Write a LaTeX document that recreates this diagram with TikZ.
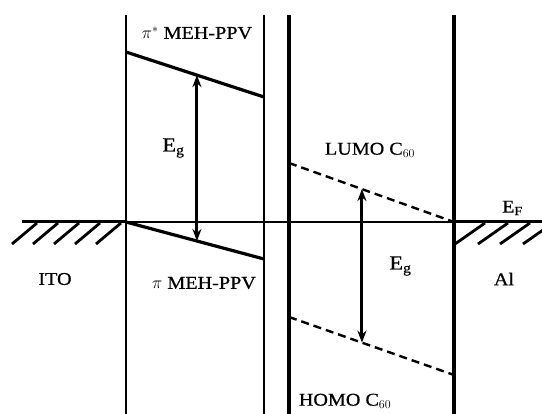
\documentclass[tikz,border=0pt]{standalone}
\usepackage{fontspec}
\setmainfont{Liberation Serif}[FakeStretch=1.12,FakeBold=0.6]
\usetikzlibrary{arrows.meta,calc}
\tikzset{
  wall/.style={line width=3.4pt},
  thinwall/.style={line width=2.6pt},
  band/.style={line width=3.2pt},
  cband/.style={line width=2.4pt, dash pattern=on 8pt off 5pt},
  level/.style={line width=3pt},
  midlevel/.style={line width=1.3pt},
  hatch/.style={line width=2.8pt},
  gap/.style={line width=3pt, {Stealth[length=12pt,width=9pt]}-{Stealth[length=12pt,width=9pt]}},
  lbl/.style={inner sep=0pt, font=\fontsize{18}{20}\selectfont},
  eglbl/.style={inner sep=0pt, font=\fontsize{20}{22}\selectfont}
}
\begin{document}
\begin{tikzpicture}[x=1pt,y=-1pt]
\useasboundingbox (0,0) rectangle (542,414);
% vertical boundaries
\coordinate (v1t) at (126,15); \coordinate (v1b) at (126,414);
\coordinate (v2t) at (264,15); \coordinate (v2b) at (264,414);
\coordinate (v3t) at (289,15); \coordinate (v3b) at (289,414);
\coordinate (v4t) at (454,15); \coordinate (v4b) at (454,414);
\draw[thinwall] (v1t) -- (v1b);
\draw[thinwall] (v2t) -- (v2b);
\draw[wall] (v3t) -- (v3b);
\draw[wall] (v4t) -- (v4b);
% Fermi level
\coordinate (efl) at (22,222);
\coordinate (ef1) at (126,222);
\coordinate (ef2) at (454,222);
\coordinate (efr) at (542,222);
\draw[level] (efl) -- (ef1);
\draw[midlevel] (ef1) -- (ef2);
\draw[level] (ef2) -- (efr);
% hatching ITO
\foreach \t in {37,58,79,100,121}{
  \draw[hatch] (\t,223) -- (\t-25,244);
}
% hatching Al
\begin{scope}
\clip (454,222) rectangle (542,260);
\foreach \t in {485,508,530,553}{
  \draw[hatch] (\t,223) -- (\t-30,244);
}
\end{scope}
% MEH-PPV bands
\coordinate (psl) at (126,52); \coordinate (psr) at (264,97);
\coordinate (pl) at (126,222); \coordinate (pr) at (264,259);
\draw[band] (psl) -- (psr);
\draw[band] (pl) -- (pr);
% C60 bands
\coordinate (lul) at (289,163); \coordinate (lur) at (454,222);
\coordinate (hol) at (289,317); \coordinate (hor) at (454,375);
\draw[cband] (lul) -- (lur);
\draw[cband] (hol) -- (hor);
% gaps
\coordinate (g1t) at ($(psl)!0.514!(psr)$);
\coordinate (g1b) at ($(pl)!0.514!(pr)$);
\draw[gap] (g1t) -- (g1b);
\coordinate (g2t) at ($(lul)!0.442!(lur)$);
\coordinate (g2b) at ($(hol)!0.442!(hor)$);
\draw[gap] (g2t) -- (g2b);
% labels
\node[lbl] (tpistar) at (197,33) {$\pi^{*}$ MEH-PPV};
\node[lbl] (tpi) at (204,283) {$\pi$ MEH-PPV};
\node[lbl] (tlumo) at (370,150) {LUMO C$_{60}$};
\node[lbl] (thomo) at (345,401) {HOMO C$_{60}$};
\node[lbl] (tef) at (512,208) {E$_{\mathrm{F}}$};
\node[lbl] (tito) at (55,279) {ITO};
\node[lbl] (tal) at (504,279) {Al};
\node[eglbl] (teg1) at (173,148) {E$_{\mathrm{g}}$};
\node[eglbl] (teg2) at (400,266) {E$_{\mathrm{g}}$};
\end{tikzpicture}
\end{document}
